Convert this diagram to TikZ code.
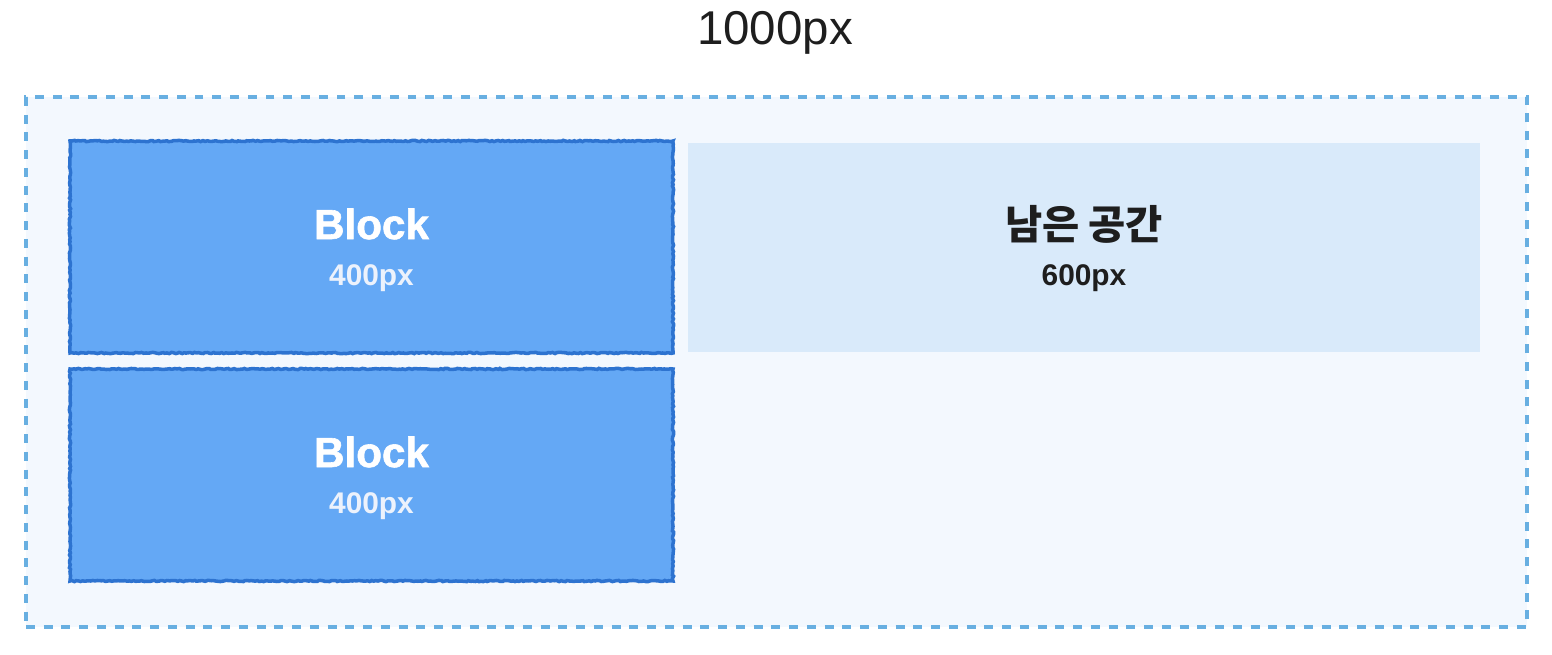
\documentclass[tikz,border=0pt]{standalone}
\usepackage{fontspec}
\setmainfont{Liberation Sans}
\newfontfamily\krfont{Noto Sans CJK KR}
\newfontfamily\heavyfont{Liberation Sans Bold}[FakeBold=1.4]
\usetikzlibrary{decorations.pathmorphing}
\usepackage{xcolor}

\definecolor{framefill}{RGB}{243,248,254}
\definecolor{framedash}{RGB}{104,175,225}
\definecolor{blockfill}{RGB}{100,168,245}
\definecolor{blockedge}{RGB}{45,115,208}
\definecolor{restfill}{RGB}{217,234,250}
\definecolor{inktext}{RGB}{30,30,30}
\definecolor{paletext}{RGB}{236,242,252}

\begin{document}
\begin{tikzpicture}[x=1cm, y=1cm]
    \useasboundingbox (0, 0) rectangle (31.04, 13.08);

    % Define styles for boxes and texts
    \tikzstyle{frame} = [rectangle, minimum width=30.02cm, minimum height=10.6cm, draw=framedash, fill=framefill, line width=2.2pt, dash pattern=on 5.1pt off 5pt]
    \tikzstyle{block} = [rectangle, minimum width=12.06cm, minimum height=4.24cm, draw=blockedge, fill=blockfill, line width=2pt, decorate, decoration={random steps, segment length=1.2pt, amplitude=0.35pt}]
    \tikzstyle{rest} = [rectangle, minimum width=15.84cm, minimum height=4.18cm, fill=restfill]
    \tikzstyle{bigtext} = [font=\heavyfont\fontsize{24}{24}\selectfont]
    \tikzstyle{smalltext} = [font=\bfseries\fontsize{17}{17}\selectfont]

    % title
    \node (width) [text=inktext, font=\fontsize{27}{27}\selectfont] at (15.5, 12.42) {1000px};

    % boxes
    \node (container) [frame] at (15.53, 5.84) {};
    \node (blockA) [block] at (7.43, 8.14) {};
    \node (blockB) [block] at (7.43, 3.58) {};
    \node (rest) [rest] at (21.68, 8.13) {};

    % labels
    \node (blockAname) [bigtext, text=white] at (7.43, 8.6) {Block};
    \node (blockAsize) [smalltext, text=paletext] at (7.43, 7.52) {400px};
    \node (blockBname) [bigtext, text=white] at (7.43, 4.04) {Block};
    \node (blockBsize) [smalltext, text=paletext] at (7.43, 2.96) {400px};
    \node (restname) [font=\krfont\bfseries\fontsize{23}{23}\selectfont, text=inktext] at (21.68, 8.6) {남은 공간};
    \node (restsize) [smalltext, text=inktext] at (21.68, 7.52) {600px};
\end{tikzpicture}
\end{document}
